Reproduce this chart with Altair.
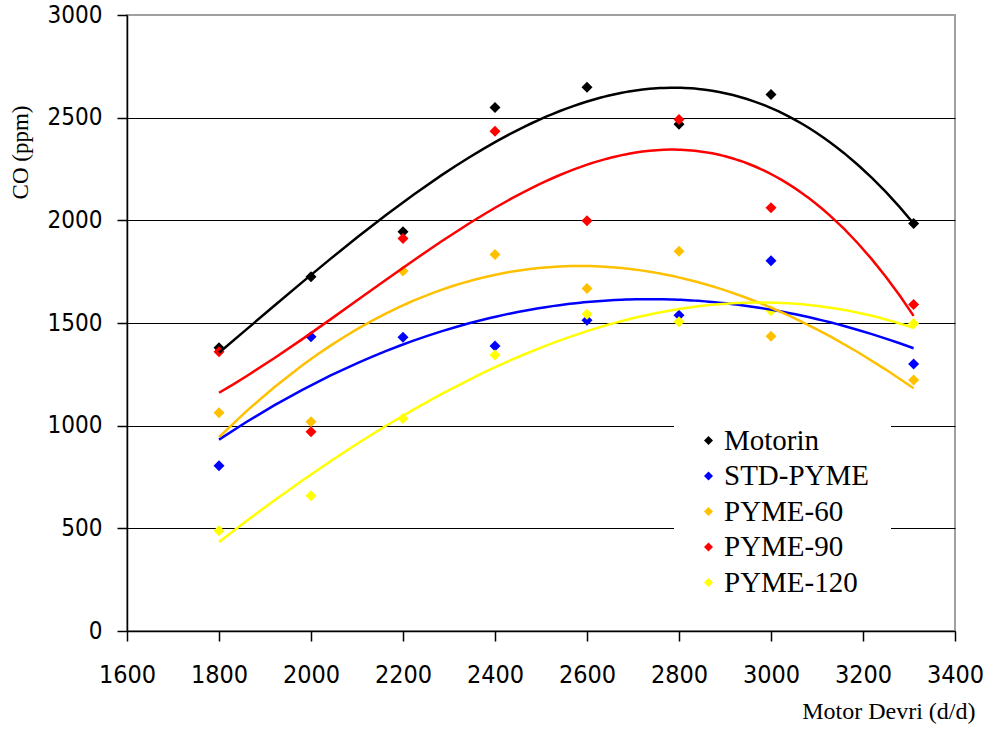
import altair as alt
import pandas as pd

rpm = [1800, 2000, 2200, 2400, 2600, 2800, 3000, 3310]
series_names = ["Motorin", "STD-PYME", "PYME-60", "PYME-90", "PYME-120"]
series_colors = ["#000000", "#0000FF", "#FFC000", "#FF0000", "#FFFF00"]
motorin = [1380, 1725, 1945, 2550, 2648, 2468, 2613, 1985]
std_pyme = [805, 1433, 1430, 1388, 1514, 1538, 1803, 1300]
pyme_60 = [1063, 1019, 1753, 1834, 1668, 1850, 1436, 1222]
pyme_90 = [1360, 970, 1912, 2434, 1998, 2491, 2061, 1590]
pyme_120 = [488, 659, 1035, 1344, 1543, 1506, 1560, 1498]
x_ticks = [1600, 1800, 2000, 2200, 2400, 2600, 2800, 3000, 3200, 3400]
y_ticks = [0, 500, 1000, 1500, 2000, 2500, 3000]

values = [motorin, std_pyme, pyme_60, pyme_90, pyme_120]
rows = []
for k, (name, vals) in enumerate(zip(series_names, values)):
    for r, v in zip(rpm, vals):
        rows.append({"rpm": r, "co": v, "series": name, "order": k})
df = pd.DataFrame(rows)

color_scale = alt.Scale(domain=series_names, range=series_colors)
x_enc = alt.X(
    "rpm:Q",
    scale=alt.Scale(domain=[1600, 3400], nice=False),
    axis=alt.Axis(
        values=x_ticks, format="d", title="Motor Devri (d/d)", grid=False,
        labelOverlap=False, labelFlush=False,
        labelFont="DejaVu Sans Condensed, Liberation Sans", labelFontSize=25,
        labelPadding=21, labelColor="black",
        tickSize=10, tickColor="black", tickWidth=1.5,
        domainColor="black", domainWidth=1.5,
        titleFont="Liberation Serif", titleFontSize=24, titleFontWeight="normal",
        titleAlign="right", titleX=848, titleY=80, titleBaseline="middle",
        titleColor="black",
    ),
)
y_enc = alt.Y(
    "co:Q",
    scale=alt.Scale(domain=[0, 3000], nice=False),
    axis=alt.Axis(
        values=y_ticks, format="d", title="CO (ppm)",
        labelOverlap=False, labelFlush=False,
        grid=True,
        gridColor={"condition": {"test": "datum.value >= 3000", "value": "#a0a0a0"}, "value": "black"},
        gridWidth=1.2,
        labelFont="DejaVu Sans Condensed, Liberation Sans", labelFontSize=24,
        labelPadding=15, labelColor="black",
        tickSize=10, tickColor="black", tickWidth=1.5,
        domainColor="black", domainWidth=1.5,
        titleFont="Liberation Serif", titleFontSize=23, titleFontWeight="normal",
        titleX=-107, titleY=137, titleAlign="center", titleBaseline="middle",
        titleAngle=270, titleColor="black",
    ),
)

points = alt.Chart(df).mark_point(
    shape="diamond", filled=True, size=121, opacity=1, strokeWidth=0
).encode(
    x=x_enc,
    y=y_enc,
    color=alt.Color(
        "series:N", scale=color_scale,
        legend=alt.Legend(
            title=None, orient="none", legendX=547, legendY=391,
            symbolType="diamond", symbolSize=81, symbolStrokeWidth=0,
            labelFont="Liberation Serif", labelFontSize=29, labelColor="black",
            labelOffset=1, rowPadding=5.5, padding=20,
            fillColor="white", strokeColor="white", labelLimit=300,
        ),
    ),
    order=alt.Order("order:Q"),
)

lines = alt.Chart(df).transform_regression(
    "rpm", "co", groupby=["series"], method="poly", order=3
).mark_line(strokeWidth=2.5).encode(
    x="rpm:Q",
    y="co:Q",
    color=alt.Color("series:N", scale=color_scale, legend=None),
)

chart = alt.layer(points, lines).properties(
    width=828, height=616,
    autosize=alt.AutoSizeParams(type="none"),
    padding={"left": 127, "top": 15, "right": 34, "bottom": 98},
    background="white",
).configure_view(stroke="#a0a0a0", strokeWidth=2)

chart.save("out.html", embed_options={"renderer": "svg", "actions": False})
